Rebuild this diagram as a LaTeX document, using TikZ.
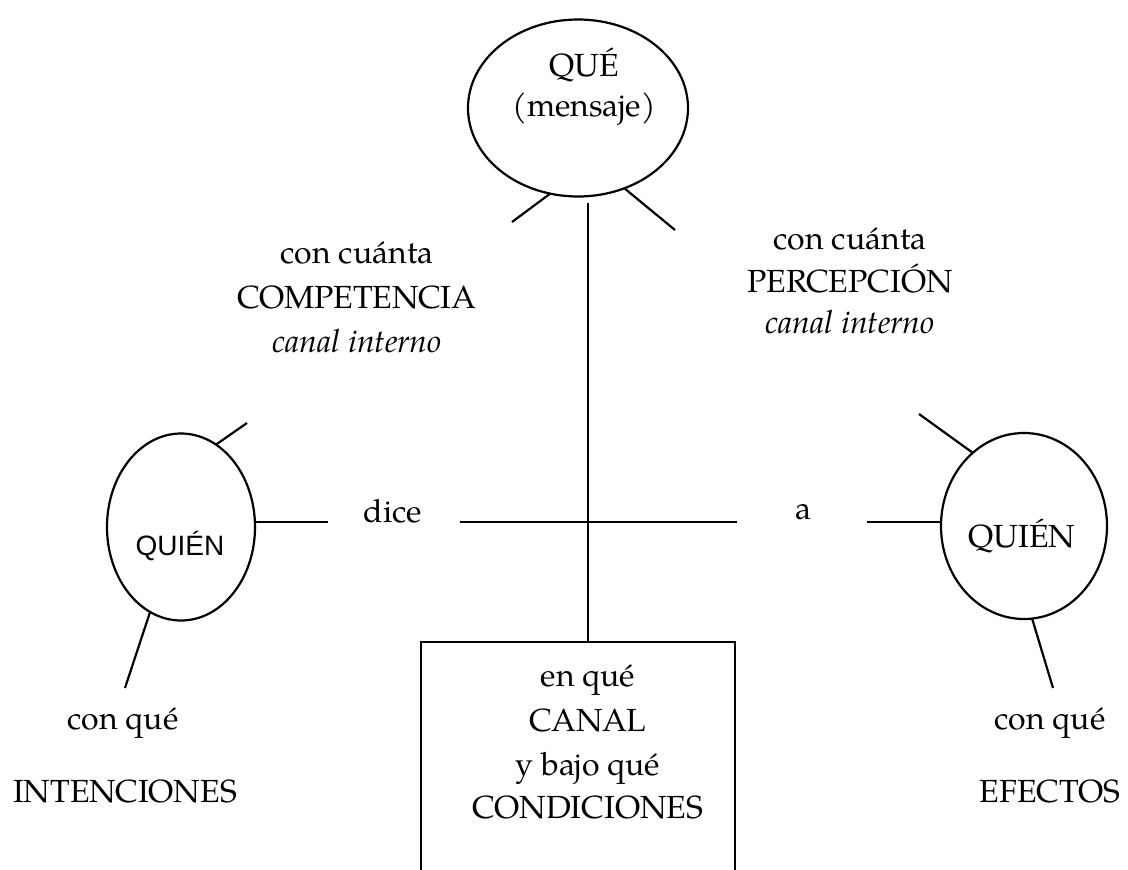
\documentclass[tikz,border=0pt]{standalone}
\usepackage{fontspec}
\setmainfont{texgyrepagella}[Extension=.otf,UprightFont=*-regular,ItalicFont=*-italic,BoldFont=*-bold,BoldItalicFont=*-bolditalic]
\newfontfamily\arialfont{Liberation Sans}
\usetikzlibrary{shapes.geometric}
\begin{document}
\begin{tikzpicture}[x=1pt,y=-1pt,line width=2.2pt,
  bubble/.style={draw,ellipse,inner sep=0pt,outer sep=0pt},
  txt/.style={anchor=base,inner sep=0pt,font=\fontsize{32}{40}\selectfont},
  itxt/.style={txt,font=\fontsize{32}{40}\selectfont\itshape},
  stxt/.style={anchor=base,inner sep=0pt,font=\fontsize{28}{34}\selectfont\arialfont}]
\useasboundingbox (0,0) rectangle (1128,870);

% shapes
\node[bubble,minimum width=220pt,minimum height=177pt] (que) at (578,108) {};
\node[bubble,minimum width=148pt,minimum height=187pt] (quienL) at (181,527) {};
\node[bubble,minimum width=166pt,minimum height=186pt] (quienR) at (1024,526) {};
\node[draw,rectangle,inner sep=0pt,outer sep=0pt,anchor=north west,minimum width=314pt,minimum height=280pt] (box) at (421,642) {};

% texts
\node[txt] (tque) at (584,76) {QUÉ};
\node[txt] (tmens) at (584,116) {(mensaje)};
\node[txt] (lc1) at (357,263) {con cuánta};
\node[txt] (lc2) at (357,308) {COMPETENCIA};
\node[itxt] (lc3) at (357,352) {canal interno};
\node[txt] (rc1) at (850,249) {con cuánta};
\node[txt] (rc2) at (850,292) {PERCEPCIÓN};
\node[itxt] (rc3) at (850,333) {canal interno};
\node[txt] (dice) at (393,522) {dice};
\node[txt] (a) at (803,519) {a};
\node[stxt] (tqL) at (180,555) {QUIÉN};
\node[txt] (tqR) at (1022,547) {QUIÉN};
\node[txt] (b1) at (588,686) {en qué};
\node[txt] (b2) at (588,731) {CANAL};
\node[txt] (b3) at (588,775) {y bajo qué};
\node[txt] (b4) at (588,818) {CONDICIONES};
\node[txt] (lq1) at (123,729) {con qué};
\node[txt] (lq2) at (125,802) {INTENCIONES};
\node[txt] (rq1) at (1050,729) {con qué};
\node[txt] (rq2) at (1050,802) {EFECTOS};

% free ends
\coordinate (e1) at (512,222);
\coordinate (e2) at (675,230);
\coordinate (vt) at (588,203);
\coordinate (e3) at (247,423);
\coordinate (e4) at (125,688);
\coordinate (e5) at (919,414);
\coordinate (e6) at (1053,688);
\coordinate (h1) at (328,522);
\coordinate (h2a) at (460,522);
\coordinate (h2b) at (737,522);
\coordinate (h3) at (867,522);

% connectors
\draw (que.252) -- (e1);
\draw (que.300) -- (e2);
\draw (vt) -- (vt |- box.north);
\draw (quienL.67) -- (e3);
\draw (quienL.250) -- (e4);
\draw (quienR.125) -- (e5);
\draw (quienR.275) -- (e6);
\draw (quienL.east |- h1) -- (h1);
\draw (h2a) -- (h2b);
\draw (h3) -- (quienR.west |- h3);
\end{tikzpicture}
\end{document}
